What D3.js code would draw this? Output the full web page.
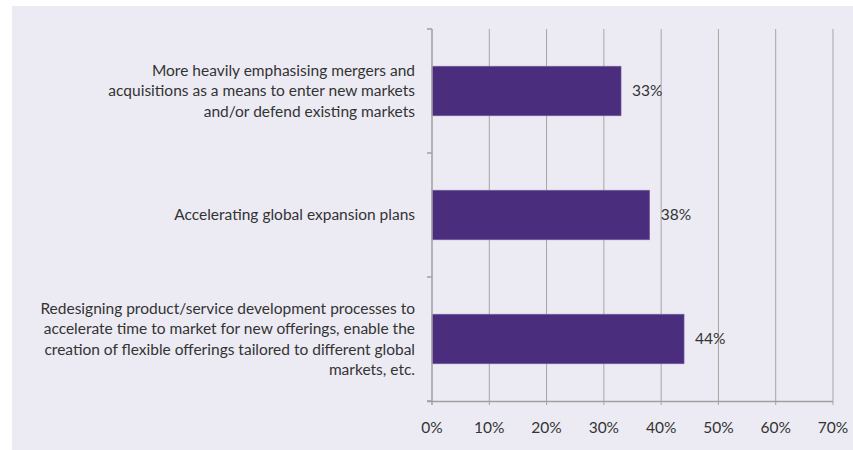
<!DOCTYPE html>
<html>
<head>
<meta charset="utf-8">
<script src="https://cdn.jsdelivr.net/npm/d3@7"></script>
<style>
  body { margin: 0; background: #ffffff; }
  .chart text { font-family: Lato, "Open Sans", sans-serif; fill: #333333; }
</style>
</head>
<body>
<div class="chart"></div>
<script>
// data
const categories = [
    ["More heavily emphasising mergers and", "acquisitions as a means to enter new markets", "and/or defend existing markets"],
    ["Accelerating global expansion plans"],
    ["Redesigning product/service development processes to", "accelerate time to market for new offerings, enable the", "creation of flexible offerings tailored to different global", "markets, etc."]
];
const values = [33, 38, 44];
const tickValues = [0, 10, 20, 30, 40, 50, 60, 70];

const W = 853, H = 450;
const margin = ({top: 29, right: 20, bottom: 49, left: 432});
const w = 833 - margin.left,
      h = 401 - margin.top;

const svg = d3.select(".chart")
    .append("svg")
    .attr("width", W)
    .attr("height", H);

// panel background
svg.append("rect")
    .attr("x", 12).attr("y", 6)
    .attr("width", W - 12).attr("height", H - 6)
    .attr("fill", "#ecebf3");

const g = svg.append("g")
    .attr("transform", `translate(${margin.left},${margin.top})`);

const xScale = d3.scaleLinear()
    .domain([0, 70])
    .range([0, w]);

const yScale = d3.scaleBand()
    .domain(d3.range(categories.length))
    .range([0, h])
    .paddingInner(0.6)
    .paddingOuter(0.3);

// gridlines
g.selectAll(".grid")
    .data(tickValues.slice(1))
    .enter()
    .append("line")
    .attr("x1", d => xScale(d)).attr("x2", d => xScale(d))
    .attr("y1", 0).attr("y2", h + 4)
    .attr("stroke", "#a5a5a5")
    .attr("stroke-width", 1);

// bars
g.selectAll(".bar")
    .data(values)
    .enter()
    .append("rect")
    .attr("x", 0)
    .attr("y", (d, i) => yScale(i))
    .attr("width", d => xScale(d))
    .attr("height", yScale.bandwidth())
    .attr("fill", "#4a2d7c")
    .attr("stroke", "#7b67a8")
    .attr("stroke-width", 0.6);

// value labels
g.selectAll(".val")
    .data(values)
    .enter()
    .append("text")
    .attr("x", d => xScale(d) + 11)
    .attr("y", (d, i) => yScale(i) + yScale.bandwidth() / 2)
    .attr("dy", "0.35em")
    .style("font-size", "15.5px")
    .text(d => d + "%");

// x axis
g.append("line")
    .attr("x1", -5).attr("x2", w)
    .attr("y1", h + 0.5).attr("y2", h + 0.5)
    .attr("stroke", "#a0a0a0")
    .attr("stroke-width", 1.5);

g.selectAll(".xt")
    .data(tickValues)
    .enter()
    .append("text")
    .attr("x", d => xScale(d))
    .attr("y", h + 32)
    .attr("text-anchor", "middle")
    .style("font-size", "15.5px")
    .text(d => d + "%");

// y axis
g.append("line")
    .attr("x1", 0).attr("x2", 0)
    .attr("y1", 0).attr("y2", h + 4)
    .attr("stroke", "#a0a0a0")
    .attr("stroke-width", 1.5);

const step = h / categories.length;
g.selectAll(".yt")
    .data(d3.range(categories.length + 1))
    .enter()
    .append("line")
    .attr("x1", -5).attr("x2", 0)
    .attr("y1", d => d * step).attr("y2", d => d * step)
    .attr("stroke", "#a0a0a0")
    .attr("stroke-width", 1.5);

// category labels
const lineH = 20.3;
g.selectAll(".cat")
    .data(categories)
    .enter()
    .append("text")
    .attr("text-anchor", "end")
    .style("font-size", "15.5px")
    .each(function(lines, i) {
        const cy = yScale(i) + yScale.bandwidth() / 2;
        const y0 = cy - (lines.length - 1) * lineH / 2;
        d3.select(this).selectAll("tspan")
            .data(lines)
            .enter()
            .append("tspan")
            .attr("x", -17)
            .attr("y", (d, j) => y0 + j * lineH)
            .attr("dy", "0.35em")
            .text(d => d);
    });
</script>
</body>
</html>
